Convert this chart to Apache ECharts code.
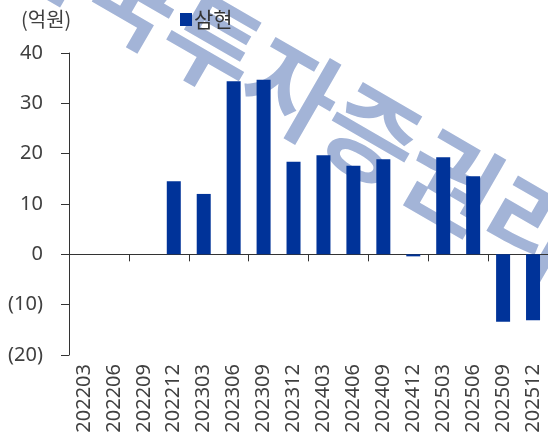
<!DOCTYPE html>
<html>
<head>
<meta charset="utf-8">
<script src="https://cdn.jsdelivr.net/npm/echarts@6/dist/echarts.min.js"></script>
<style>
html,body{margin:0;padding:0;background:#fff;}
#chart{width:548px;height:443px;}
</style>
</head>
<body>
<div id="chart"></div>
<script>
const categories = ['202203','202206','202209','202212','202303','202306','202309','202312','202403','202406','202409','202412','202503','202506','202509','202512'];
const seriesName = '삼현';
const values = [0, 0, 0, 14.5, 12.0, 34.4, 34.7, 18.4, 19.7, 17.6, 18.9, -0.4, 19.3, 15.5, -13.4, -13.1];
const unitLabel = '(억원)';
const yMin = -20, yMax = 40, yStep = 10;
const watermarkText = '한국투자증권리서';

const chart = echarts.init(document.getElementById('chart'), null, {renderer: 'canvas'});
const txt = '#404040';
const font = '"Noto Sans", "Noto Sans CJK KR", sans-serif';
chart.setOption({
  animation: false,
  textStyle: {fontFamily: font},
  title: {
    text: unitLabel, left: 16, top: 4, z: 200,
    textStyle: {fontSize: 20, fontWeight: 'normal', color: txt, fontFamily: '"Noto Sans CJK KR", sans-serif'}
  },
  legend: {
    data: [seriesName], left: 180, top: 9, padding: 0, z: 200,
    icon: 'rect', itemWidth: 12, itemHeight: 13,
    textStyle: {fontSize: 21, color: '#333', fontFamily: '"Noto Sans CJK KR", sans-serif', padding: [0,0,0,-3]}
  },
  grid: {left: 69, top: 53, width: 485, height: 302, containLabel: false},
  xAxis: [{
    type: 'category', data: categories,
    axisLine: {onZero: true, lineStyle: {color: '#333', width: 1}},
    axisTick: {show: true, length: 7, lineStyle: {color: '#333'}},
    axisLabel: {show: false}
  }, {
    type: 'category', data: categories, position: 'bottom',
    axisLine: {show: false, onZero: false}, axisTick: {show: false},
    axisLabel: {rotate: 90, margin: 9, fontSize: 20, color: txt, interval: 0}
  }],
  yAxis: {
    type: 'value', min: yMin, max: yMax, interval: yStep,
    axisLine: {show: true, lineStyle: {color: '#333'}},
    axisTick: {show: true, length: 8, lineStyle: {color: '#333'}},
    splitLine: {show: false},
    axisLabel: {
      fontSize: 20, color: txt, margin: 26,
      formatter: v => v < 0 ? '(' + Math.abs(v) + ')' : String(v)
    }
  },
  series: [{
    name: seriesName, type: 'bar', data: values, xAxisIndex: 0, z: 5,
    barWidth: 14, itemStyle: {color: '#003399'}
  }],
  graphic: [{
    type: 'text', x: 332, y: 112, rotation: -Math.PI / 6, z: -10,
    style: {
      text: watermarkText, textAlign: 'center', textVerticalAlign: 'middle',
      font: 'bold 100px "Noto Sans CJK KR"', fill: '#A3B4D7'
    }
  }]
});
</script>
</body>
</html>
